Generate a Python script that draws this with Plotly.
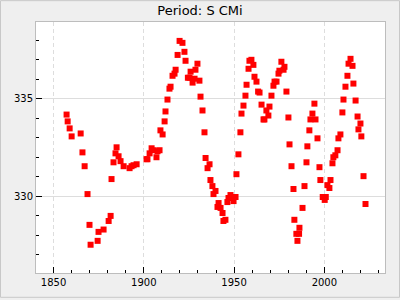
import plotly.graph_objects as go

years = [1857.2, 1857.8, 1858.9, 1860.0, 1865.0, 1866.0, 1867.2, 1868.8, 1869.9, 1870.5,
         1874.4, 1874.9, 1877.7, 1880.5, 1881.6, 1882.1, 1883.2, 1884.3, 1884.9, 1886.0,
         1887.1, 1888.8, 1892.1, 1893.2, 1894.3, 1896.0, 1901.5, 1902.0, 1903.2, 1904.3,
         1905.4, 1907.0, 1907.6, 1908.7, 1909.2, 1910.4, 1911.5, 1912.0, 1913.1, 1914.2,
         1914.8, 1915.9, 1917.0, 1917.6, 1918.7, 1919.8, 1921.4, 1922.5, 1923.1, 1924.4,
         1925.3, 1925.9, 1927.0, 1928.1, 1928.6, 1929.7, 1930.8, 1931.4, 1932.5, 1933.6,
         1934.2, 1935.3, 1936.4, 1936.9, 1938.0, 1938.6, 1939.7, 1940.8, 1941.4, 1942.5,
         1943.6, 1944.1, 1945.2, 1946.3, 1946.9, 1948.0, 1949.1, 1949.7, 1950.8, 1951.3,
         1952.4, 1953.5, 1954.1, 1955.2, 1956.3, 1956.9, 1958.0, 1958.5, 1959.6, 1960.7,
         1961.3, 1962.4, 1963.3, 1964.1, 1965.2, 1966.3, 1966.8, 1967.9, 1969.0, 1969.6,
         1970.7, 1971.8, 1972.4, 1973.5, 1974.6, 1975.1, 1976.2, 1977.4, 1977.9, 1979.0,
         1980.1, 1980.7, 1981.8, 1982.9, 1983.4, 1984.5, 1985.1, 1986.0, 1986.2, 1987.9,
         1989.0, 1990.1, 1990.6, 1991.7, 1992.3, 1993.4, 1994.5, 1995.1, 1996.2, 1997.3,
         1997.8, 1999.1, 2000.2, 2000.8, 2001.7, 2002.8, 2003.4, 2004.5, 2005.0, 2006.1,
         2007.3, 2007.8, 2008.9, 2010.0, 2010.6, 2011.7, 2012.8, 2013.4, 2014.5, 2015.6,
         2016.1, 2017.3, 2018.4, 2018.9, 2020.0, 2020.5, 2021.7, 2022.8]

periods = [334.18, 333.83, 333.47, 333.06, 333.21, 332.24, 331.53, 330.10, 328.52, 327.50,
           327.70, 328.16, 328.28, 328.72, 328.98, 330.87, 331.73, 332.19, 332.50, 332.04,
           331.79, 331.53, 331.43, 331.53, 331.58, 331.63, 331.89, 331.89, 332.19, 332.45,
           332.35, 331.99, 332.30, 332.35, 333.37, 333.16, 333.83, 334.34, 334.95, 335.51,
           335.61, 336.17, 336.28, 336.48, 337.24, 337.96, 337.86, 337.40, 336.94, 336.07,
           336.07, 336.38, 335.82, 336.02, 336.48, 336.79, 335.92, 335.10, 334.39, 333.27,
           331.95, 331.43, 331.63, 330.82, 330.51, 330.10, 330.26, 329.44, 329.64, 329.39,
           329.13, 328.72, 328.78, 329.69, 329.90, 330.05, 329.90, 329.74, 329.95, 331.12,
           332.14, 333.27, 334.23, 334.64, 335.15, 335.71, 336.53, 336.94, 336.99, 336.73,
           336.12, 335.87, 335.36, 335.31, 334.69, 333.93, 333.93, 334.39, 334.13, 334.59,
           335.15, 335.66, 335.87, 335.87, 336.28, 336.43, 336.89, 336.48, 336.63, 335.36,
           334.03, 332.65, 331.53, 330.36, 328.78, 328.06, 327.70, 328.06, 328.37, 329.39,
           330.51, 331.73, 332.55, 333.37, 333.93, 334.23, 334.74, 333.93, 332.96, 331.48,
           330.82, 329.95, 329.80, 329.95, 330.56, 330.41, 330.82, 331.68, 331.99, 332.09,
           332.35, 332.96, 333.16, 334.29, 334.95, 335.61, 336.17, 336.79, 337.04, 336.68,
           335.77, 334.90, 334.08, 333.42, 333.72, 333.06, 331.02, 329.59]

title_text = "Period: S CMi"
x_range = [1840.26, 2033.6]
y_range = [326.05, 338.93]

ML, MR, MT, MB = 36, 15, 22, 25
W, H = 400, 300
PW, PH = W - ML - MR, H - MT - MB

fig = go.Figure()
fig.add_trace(go.Scatter(
    x=years, y=periods, mode="markers",
    marker=dict(symbol="square", size=6, color="#ff0000", line=dict(width=0)),
    showlegend=False,
))

axis_common = dict(
    showline=True, linecolor="#bdbdbd", linewidth=1, mirror=True,
    ticks="inside", tickcolor="#000000", ticklen=6, tickwidth=1,
    tickfont=dict(family="DejaVu Sans", size=10, color="#000000"),
    zeroline=False, gridcolor="#dddddd", gridwidth=1,
)

fig.update_layout(
    width=W, height=H,
    margin=dict(l=ML, r=MR, t=MT, b=MB, pad=0),
    paper_bgcolor="#efefef", plot_bgcolor="#ffffff",
    title=dict(text=title_text, x=0.5, xref="container", xanchor="center",
               y=1 - 10.5 / H, yref="container", yanchor="middle",
               font=dict(family="DejaVu Sans", size=13, color="#000000")),
    xaxis=dict(range=x_range, tickvals=[1850, 1900, 1950, 2000], griddash="4px,3px",
               minor=dict(dtick=10, tick0=1850, ticks="inside", ticklen=3,
                          tickcolor="#000000", showgrid=False),
               **axis_common),
    yaxis=dict(range=y_range, tickvals=[330, 335], griddash="solid",
               minor=dict(dtick=1, tick0=330, ticks="inside", ticklen=3,
                          tickcolor="#000000", showgrid=False),
               **axis_common),
    shapes=[dict(type="rect", xref="paper", yref="paper",
                 x0=-(ML - 0.5) / PW, x1=1 + (MR - 0.5) / PW,
                 y0=-(MB - 0.5) / PH, y1=1 + (MT - 0.5) / PH,
                 line=dict(color="#c8c8c8", width=1), fillcolor="rgba(0,0,0,0)",
                 layer="below")],
)

fig.write_html("out.html")
